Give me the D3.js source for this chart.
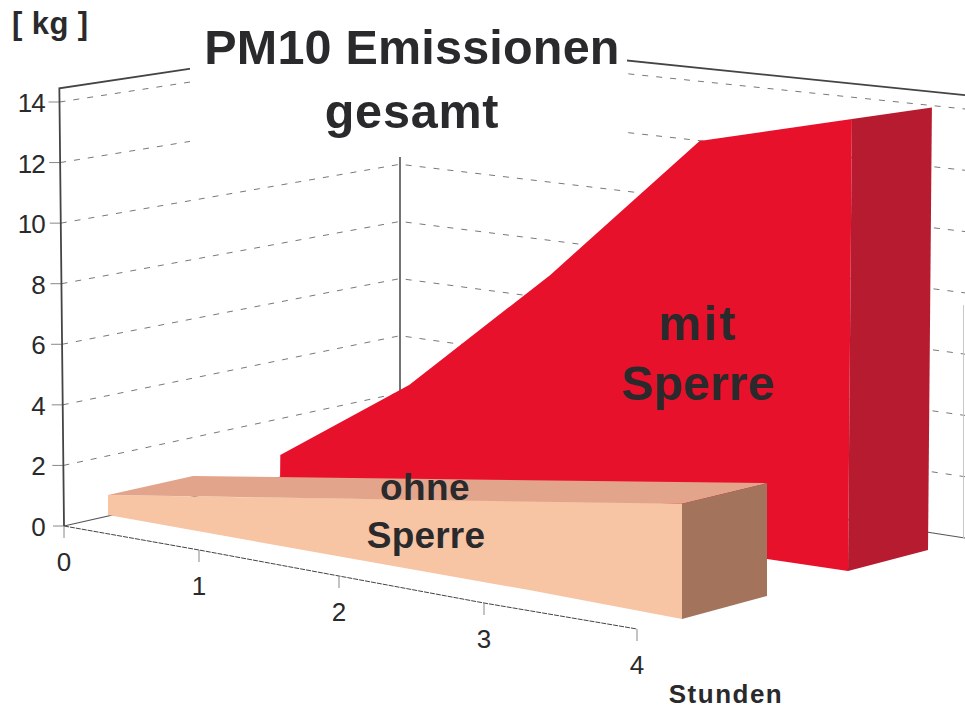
<!DOCTYPE html>
<html>
<head>
<meta charset="utf-8">
<script src="https://cdn.jsdelivr.net/npm/d3@7/dist/d3.min.js"></script>
<style>
html,body{margin:0;padding:0;background:#fff;overflow:hidden}
svg{display:block}
text{font-family:"Liberation Sans",Arial,sans-serif}
</style>
</head>
<body>
<svg id="chart" width="965" height="709"></svg>
<script>
// ---- data ----
const hours = [0, 1, 2, 3, 4];
const kgTicks = [0, 2, 4, 6, 8, 10, 12, 14];
const mitSperre = [1.07, 4.0, 8.1, 12.72, 13.7];
const ohneSperre = [0.67, 1.35, 2.0, 2.74, 3.29];
const titleLines = ["PM10 Emissionen", "gesamt"];
const mitLabel = ["mit", "Sperre"];
const ohneLabel = ["ohne", "Sperre"];
const yUnit = "[ kg ]";
const xUnit = "Stunden";
const kgTop = 14.45;

const svg = d3.select("#chart");

// ---- projection scales: three walls of the box ----
const leftWallX = d3.scaleLinear().domain([0, 14]).range([64, 59.5]);
const leftWallY = d3.scaleLinear().domain([0, 14]).range([526, 102]);
const cornerX = 400;
const cornerY = d3.scaleLinear().domain([0, 14]).range([450, 50]);
const rightX = 965;
const rightY = d3.scaleLinear().domain([0, 14]).range([538, 109]);

// floor axis along the front
const axisX = d3.scaleLinear().domain(hours).range([64, 199, 339, 484, 637]);
const axisY = d3.scaleLinear().domain(hours).range([526, 550, 576, 603, 629]);

// plane of the red band
const redX = d3.scaleLinear().domain(hours).range([280, 408, 548, 696, 848]);
const redBase = d3.scaleLinear().domain(hours).range([486, 505, 526, 548, 571]);
const redUnit = d3.scaleLinear().domain(hours).range([29, 30, 31, 32, 33]);
const redLean = d3.scaleLinear().domain([0, 14]).range([0, 4]);
const redDepth = {dx: 80, dy: -21, unit: 32.3};

// plane of the peach band
const peachX = d3.scaleLinear().domain(hours).range([108, 242, 382, 529, 682]);
const peachBase = d3.scaleLinear().domain(hours).range([515, 539, 564, 590, 619]);
const peachUnit = d3.scaleLinear().domain(hours).range([30, 31, 32.5, 33.5, 35]);
const peachDx = 85;
const peachDy = d3.scaleLinear().domain([0, 4]).range([-19, -23]);
const peachBackUnit = d3.scaleLinear().domain([0, 4]).range([30, 34.3]);

const line = d3.line();
const poly = pts => line(pts) + "Z";
const gridStroke = "#555", axisStroke = "#444", ink = "#2a2a2c";

// ---- walls ----
const walls = svg.append("g");
kgTicks.forEach(k => {
  walls.append("path")
    .attr("d", line([[leftWallX(k), leftWallY(k)], [cornerX, cornerY(k)], [rightX, rightY(k)]]))
    .attr("fill", "none")
    .attr("stroke", gridStroke)
    .attr("stroke-width", k === 0 ? 1.1 : 0.8)
    .attr("stroke-dasharray", k === 0 ? null : "6 8");
  walls.append("line")
    .attr("x1", leftWallX(k) - 11).attr("x2", leftWallX(k))
    .attr("y1", leftWallY(k)).attr("y2", leftWallY(k))
    .attr("stroke", "#888").attr("stroke-width", 1);
  walls.append("text")
    .attr("x", 45).attr("y", leftWallY(k) + 10)
    .attr("text-anchor", "end")
    .attr("font-size", 26).attr("fill", ink).attr("letter-spacing", -0.8)
    .text(k);
});
// outer frame of the walls
walls.append("path")
  .attr("d", line([[leftWallX(0), leftWallY(0)], [leftWallX(kgTop), leftWallY(kgTop)],
                   [cornerX, cornerY(kgTop)], [rightX, rightY(kgTop)]]))
  .attr("fill", "none").attr("stroke", axisStroke).attr("stroke-width", 1.8);
walls.append("line")
  .attr("x1", cornerX).attr("x2", cornerX)
  .attr("y1", cornerY(kgTop)).attr("y2", cornerY(0))
  .attr("stroke", axisStroke).attr("stroke-width", 1.5);
walls.append("line")
  .attr("x1", rightX - 1.5).attr("x2", rightX - 1.5)
  .attr("y1", rightY(7.6)).attr("y2", rightY(0))
  .attr("stroke", "#c8c8c8").attr("stroke-width", 1);

// ---- floor axis ----
const floor = svg.append("g");
floor.append("path")
  .attr("d", line(hours.map(h => [axisX(h), axisY(h)])))
  .attr("fill", "none").attr("stroke", "#444").attr("stroke-width", 1)
  .attr("stroke-dasharray", "5 1");
hours.forEach(h => {
  floor.append("line")
    .attr("x1", axisX(h)).attr("x2", axisX(h))
    .attr("y1", axisY(h)).attr("y2", axisY(h) + 12)
    .attr("stroke", "#888").attr("stroke-width", 1);
  floor.append("text")
    .attr("x", axisX(h)).attr("y", axisY(h) + 45)
    .attr("text-anchor", "middle")
    .attr("font-size", 26).attr("fill", ink)
    .text(h);
});

// ---- title, on its own white patch ----
svg.append("rect").attr("x", 190).attr("y", 0).attr("width", 437).attr("height", 157).attr("fill", "#fff");
const bold = (x, y, size, spacing, str, anchor) => svg.append("text")
  .attr("x", x).attr("y", y)
  .attr("text-anchor", anchor || "middle")
  .attr("font-size", size).attr("font-weight", 700)
  .attr("letter-spacing", spacing).attr("fill", ink)
  .text(str);
bold(412, 64, 48.5, 0.2, titleLines[0]);
bold(412, 128, 48.5, 0.8, titleLines[1]);
bold(12, 34, 31, 0.4, yUnit, "start");

// ---- red band ----
const redTop = (h, v) => [redX(h) + redLean(v), redBase(h) - v * redUnit(h)];
const last = hours.length - 1;
const red = svg.append("g");
red.append("path")
  .attr("d", poly([
    ...hours.map((h, i) => redTop(h, mitSperre[i])),
    [redX(4), redBase(4)],
    [redX(0), redBase(0)]
  ]))
  .attr("fill", "#e8112b");
red.append("path")
  .attr("d", poly([
    redTop(4, mitSperre[last]),
    [redX(4) + redDepth.dx + redLean(mitSperre[last]),
     redBase(4) + redDepth.dy - mitSperre[last] * redDepth.unit],
    [redX(4) + redDepth.dx, redBase(4) + redDepth.dy],
    [redX(4), redBase(4)]
  ]))
  .attr("fill", "#b71b2f");

// ---- peach band ----
const peachTop = (h, v) => [peachX(h), peachBase(h) - v * peachUnit(h)];
const peachBackTop = (h, v) => [peachX(h) + peachDx, peachBase(h) + peachDy(h) - v * peachBackUnit(h)];
const peach = svg.append("g");
peach.append("path")
  .attr("d", poly([
    ...hours.map((h, i) => peachTop(h, ohneSperre[i])),
    ...hours.slice().reverse().map(h => [peachX(h), peachBase(h)])
  ]))
  .attr("fill", "#f7c4a4");
peach.append("path")
  .attr("d", poly([
    peachTop(0, ohneSperre[0]),
    peachBackTop(0, ohneSperre[0]),
    peachBackTop(4, ohneSperre[last]),
    peachTop(4, ohneSperre[last])
  ]))
  .attr("fill", "#e2a58b");
peach.append("path")
  .attr("d", poly([
    peachTop(4, ohneSperre[last]),
    peachBackTop(4, ohneSperre[last]),
    [peachX(4) + peachDx, peachBase(4) + peachDy(4)],
    [peachX(4), peachBase(4)]
  ]))
  .attr("fill", "#a4735c");

// ---- labels ----
bold(698, 340, 48, 2.5, mitLabel[0]);
bold(698, 400, 48, 0.2, mitLabel[1]);
bold(425, 500, 37, 0.4, ohneLabel[0]);
bold(426, 548, 37, 0.2, ohneLabel[1]);
bold(726, 703, 26, 1.5, xUnit);
</script>
</body>
</html>
